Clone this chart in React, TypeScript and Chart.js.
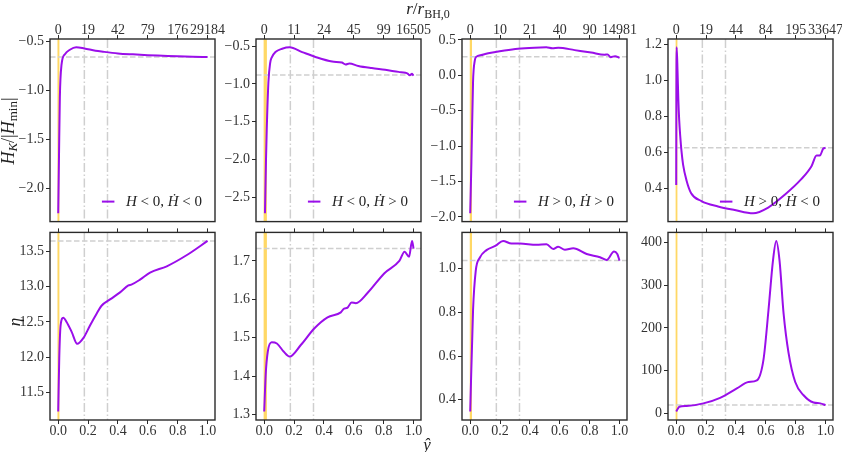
import React, { useEffect, useRef } from 'react'
import { Chart, registerables } from 'chart.js'

Chart.register(...registerables)

// region data
const xTicks = [0, 0.2, 0.4, 0.6, 0.8, 1.0]
const rTickLabels = [
	['0', '19', '42', '79', '176', '29184'],
	['0', '11', '24', '45', '99', '16505'],
	['0', '10', '21', '40', '90', '14981'],
	['0', '19', '44', '84', '195', '33647'],
]
const legendSigns = [
	['<', '<'],
	['<', '>'],
	['>', '>'],
	['>', '<'],
]
const splitLines = [0.175, 0.33]
const bands = [
	[-0.005, 0.008],
	[-0.004, 0.018],
	[-0.003, 0.012],
	[-0.004, 0.008],
]

// H_K / |H_min|, one pair of arrays per column
const hk1X = [0, 0.005, 0.011, 0.022, 0.045, 0.078, 0.12, 0.175, 0.25, 0.3, 0.4, 0.5, 0.6, 0.7, 0.8, 0.9, 1.0]
const hk1Y = [-2.25, -1.7, -1.07, -0.74, -0.63, -0.585, -0.56, -0.572, -0.595, -0.605, -0.622, -0.632, -0.64, -0.646, -0.652, -0.657, -0.66]
const hk2X = [0.005, 0.012, 0.017, 0.028, 0.04, 0.05, 0.075, 0.12, 0.17, 0.254, 0.343, 0.455, 0.52, 0.545, 0.57, 0.63, 0.72, 0.81, 0.9, 0.945, 0.96, 0.975, 0.99, 1.0]
const hk2Y = [-2.71, -2.0, -1.6, -0.98, -0.72, -0.65, -0.578, -0.534, -0.515, -0.578, -0.643, -0.704, -0.717, -0.742, -0.73, -0.761, -0.79, -0.813, -0.84, -0.852, -0.862, -0.885, -0.865, -0.89]
const hk3X = [0, 0.008, 0.019, 0.03, 0.04, 0.075, 0.1, 0.16, 0.23, 0.32, 0.43, 0.51, 0.55, 0.59, 0.7, 0.81, 0.9, 0.92, 0.94, 0.97, 1.0]
const hk3Y = [-1.95, -1.23, -0.09, 0.2, 0.26, 0.285, 0.3, 0.325, 0.35, 0.375, 0.39, 0.395, 0.38, 0.39, 0.355, 0.32, 0.29, 0.295, 0.255, 0.27, 0.245]
const hk4X = [0, 0.001, 0.003, 0.009, 0.014, 0.02, 0.028, 0.035, 0.046, 0.069, 0.1, 0.169, 0.28, 0.392, 0.515, 0.616, 0.727, 0.839, 0.906, 0.94, 0.962, 0.985, 1.0]
const hk4Y = [0.42, 0.9, 1.185, 1.05, 0.9, 0.78, 0.68, 0.61, 0.533, 0.445, 0.374, 0.33, 0.3, 0.28, 0.262, 0.294, 0.365, 0.453, 0.524, 0.583, 0.583, 0.622, 0.626]

// eta
const eta1X = [0, 0.007, 0.016, 0.034, 0.056, 0.09, 0.127, 0.168, 0.213, 0.258, 0.29, 0.347, 0.414, 0.47, 0.49, 0.548, 0.615, 0.727, 0.862, 1.0]
const eta1Y = [11.23, 11.99, 12.45, 12.56, 12.5, 12.36, 12.19, 12.27, 12.45, 12.62, 12.73, 12.82, 12.92, 13.02, 13.03, 13.1, 13.2, 13.29, 13.45, 13.65]
const eta2X = [0, 0.01, 0.024, 0.05, 0.085, 0.13, 0.17, 0.245, 0.335, 0.424, 0.513, 0.535, 0.557, 0.585, 0.614, 0.693, 0.805, 0.905, 0.94, 0.97, 0.99, 1.0]
const eta2Y = [1.308, 1.405, 1.464, 1.488, 1.485, 1.464, 1.451, 1.481, 1.524, 1.553, 1.566, 1.576, 1.578, 1.592, 1.59, 1.617, 1.668, 1.7, 1.724, 1.711, 1.752, 1.732]
const eta3X = [0, 0.019, 0.037, 0.064, 0.109, 0.171, 0.22, 0.276, 0.332, 0.444, 0.511, 0.556, 0.589, 0.634, 0.69, 0.78, 0.869, 0.914, 0.963, 0.985, 1.0]
const eta3Y = [0.346, 0.81, 0.99, 1.05, 1.085, 1.105, 1.127, 1.115, 1.115, 1.109, 1.112, 1.09, 1.1, 1.087, 1.093, 1.067, 1.052, 1.04, 1.079, 1.067, 1.037]
const eta4X = [0, 0.021, 0.07, 0.182, 0.294, 0.406, 0.484, 0.54, 0.585, 0.618, 0.648, 0.67, 0.692, 0.719, 0.752, 0.797, 0.853, 0.92, 0.965, 1.0]
const eta4Y = [4, 15, 17, 23, 36, 58, 73, 77, 127, 242, 358, 404, 358, 234, 142, 73, 42, 25, 23, 19]

const hkX = [hk1X, hk2X, hk3X, hk4X]
const hkY = [hk1Y, hk2Y, hk3Y, hk4Y]
const etaX = [eta1X, eta2X, eta3X, eta4X]
const etaY = [eta1Y, eta2Y, eta3Y, eta4Y]

const hkTicks = [
	[-2.0, -1.5, -1.0, -0.5],
	[-2.5, -2.0, -1.5, -1.0, -0.5],
	[-2.0, -1.5, -1.0, -0.5, 0.0, 0.5],
	[0.4, 0.6, 0.8, 1.0, 1.2],
]
const etaTicks = [
	[11.5, 12.0, 12.5, 13.0, 13.5],
	[1.3, 1.4, 1.5, 1.6, 1.7],
	[0.4, 0.6, 0.8, 1.0],
	[0, 100, 200, 300, 400],
]
const etaDecimals = [1, 1, 1, 0]
const hkRef = [-0.66, -0.88, 0.26, 0.626]
const etaRef = [13.65, 1.732, 1.037, 19]
// endregion

const PURPLE = '#9a0eea'
const GOLD = '#ffd865'
const GREY = '#cfcfcf'
const FRAME = '#2a2a2a'
const FONT = '"Liberation Serif", "DejaVu Serif", serif'

const colLeft = [50, 256, 462, 668]
const panelW = 165
const rowTop = [39, 230]
const rowH = [191, 190]
const yAxisW = 50
const rightPad = 24
const topAxisH = [32, 8]
const bottomAxisH = [2, 28]

Chart.defaults.font.family = FONT
Chart.defaults.font.size = 14
Chart.defaults.color = '#333'

const fmt = (v: number, d: number) => v.toFixed(d).replace('-', '\u2212')

const decorPlugin = {
	id: 'panelDecor',
	beforeDatasetsDraw(chart: any, _args: any, opts: any) {
		const { ctx, chartArea: a, scales } = chart
		const xs = scales.x
		const ys = scales.y
		ctx.save()
		ctx.beginPath()
		ctx.rect(a.left, a.top, a.right - a.left, a.bottom - a.top)
		ctx.clip()
		// gold band
		const b0 = xs.getPixelForValue(opts.band[0])
		const b1 = xs.getPixelForValue(opts.band[1])
		ctx.fillStyle = GOLD
		ctx.fillRect(b0, a.top, b1 - b0, a.bottom - a.top)
		// dash-dot verticals
		ctx.strokeStyle = GREY
		ctx.lineWidth = 1.5
		ctx.setLineDash([9, 2.5, 1.5, 2.5])
		opts.vlines.forEach((v: number) => {
			const px = xs.getPixelForValue(v)
			ctx.beginPath()
			ctx.moveTo(px, a.top)
			ctx.lineTo(px, a.bottom)
			ctx.stroke()
		})
		// dashed horizontal
		ctx.setLineDash([5.5, 2.5])
		const py = ys.getPixelForValue(opts.hline)
		ctx.beginPath()
		ctx.moveTo(a.left, py)
		ctx.lineTo(a.right, py)
		ctx.stroke()
		ctx.restore()
	},
	afterDraw(chart: any, _args: any, opts: any) {
		const { ctx, chartArea: a } = chart
		ctx.save()
		ctx.strokeStyle = FRAME
		ctx.lineWidth = 1.4
		ctx.strokeRect(a.left, a.top, a.right - a.left, a.bottom - a.top)
		if (opts.signs) {
			const runs = [
				{ t: 'H', it: true },
				{ t: ` ${opts.signs[0]} 0, `, it: false },
				{ t: '\u1E22', it: true },
				{ t: ` ${opts.signs[1]} 0`, it: false },
			]
			const font = (it: boolean) => `${it ? 'italic ' : ''}15px ${FONT}`
			let w = 0
			runs.forEach((r) => {
				ctx.font = font(r.it)
				w += ctx.measureText(r.t).width
			})
			let x = a.right - 13 - w
			const y = a.bottom - 20
			ctx.strokeStyle = PURPLE
			ctx.lineWidth = 2
			ctx.beginPath()
			ctx.moveTo(x - 24, y)
			ctx.lineTo(x - 11.5, y)
			ctx.stroke()
			ctx.fillStyle = '#222'
			ctx.textBaseline = 'middle'
			ctx.textAlign = 'left'
			runs.forEach((r) => {
				ctx.font = font(r.it)
				ctx.fillText(r.t, x, y)
				x += ctx.measureText(r.t).width
			})
		}
		ctx.restore()
	},
}

interface PanelProps {
	row: number
	col: number
	xs: number[]
	ys: number[]
	yTicks: number[]
	decimals: number
	hline: number
}

function Panel(props: PanelProps) {
	const refCanvas = useRef<HTMLCanvasElement>(null)
	const { row, col } = props
	const width = yAxisW + panelW + rightPad
	const height = topAxisH[row] + rowH[row] + bottomAxisH[row]

	useEffect(() => {
		let chart: Chart | undefined
		const context = refCanvas.current?.getContext('2d')
		if (context) {
			const lo = Math.min(...props.ys)
			const hi = Math.max(...props.ys)
			const pad = 0.05 * (hi - lo)
			const setX = (s: any) => {
				s.ticks = xTicks.map((v) => ({ value: v }))
			}
			chart = new Chart(context, {
				type: 'line',
				data: {
					datasets: [
						{
							data: props.xs.map((v, i) => ({ x: v, y: props.ys[i] })),
							borderColor: PURPLE,
							borderWidth: 2,
							pointRadius: 0,
							cubicInterpolationMode: 'monotone',
							fill: false,
						},
					],
				},
				options: {
					animation: false,
					responsive: false,
					maintainAspectRatio: false,
					events: [],
					layout: { padding: { left: 0, right: rightPad, top: 0, bottom: 0 }, autoPadding: false },
					plugins: {
						legend: { display: false },
						tooltip: { enabled: false },
						panelDecor: {
							band: bands[col],
							vlines: splitLines,
							hline: props.hline,
							signs: row === 0 ? legendSigns[col] : null,
						},
					} as any,
					scales: {
						x: {
							type: 'linear',
							position: 'bottom',
							min: -0.055,
							max: 1.05,
							afterBuildTicks: setX,
							ticks: {
								display: row === 1,
								padding: -1,
								autoSkip: false,
								maxRotation: 0,
								callback: (v: any) => Number(v).toFixed(1),
							},
							grid: { display: row === 1, drawOnChartArea: false, tickLength: 4, color: FRAME },
							border: { display: false },
							afterFit: (s: any) => {
								s.height = bottomAxisH[row]
							},
						},
						x2: {
							type: 'linear',
							position: 'top',
							min: -0.055,
							max: 1.05,
							afterBuildTicks: setX,
							ticks: {
								display: row === 0,
								padding: -4,
								autoSkip: false,
								maxRotation: 0,
								callback: (_v: any, i: number) => rTickLabels[col][i] ?? '',
							},
							grid: { drawOnChartArea: false, tickLength: 4, color: FRAME },
							border: { display: false },
							afterFit: (s: any) => {
								s.height = topAxisH[row]
							},
						},
						y: {
							type: 'linear',
							min: lo - pad,
							max: hi + pad,
							afterBuildTicks: (s: any) => {
								s.ticks = props.yTicks.map((v) => ({ value: v }))
							},
							ticks: {
								padding: 2,
								autoSkip: false,
								callback: (v: any) => fmt(Number(v), props.decimals),
							},
							grid: { drawOnChartArea: false, tickLength: 4, color: FRAME },
							border: { display: false },
							afterFit: (s: any) => {
								s.width = yAxisW
							},
						},
					},
				} as any,
				plugins: [decorPlugin],
			})
		}
		return () => chart?.destroy()
	}, [])

	return (
		<canvas
			ref={refCanvas}
			width={width}
			height={height}
			style={{
				position: 'absolute',
				left: colLeft[col] - yAxisW,
				top: rowTop[row] - topAxisH[row],
				width,
				height,
			}}
		/>
	)
}

const labelStyle: React.CSSProperties = {
	position: 'absolute',
	transform: 'translate(-50%, -50%)',
	fontFamily: FONT,
	fontSize: 17,
	color: '#222',
	whiteSpace: 'nowrap',
	lineHeight: 1,
}
const subStyle: React.CSSProperties = { fontSize: 12, verticalAlign: '-0.3em' }

export default function App() {
	return (
		<div style={{ position: 'absolute', left: 0, top: 0, width: 842, height: 452, background: '#fff' }}>
			{[0, 1, 2, 3].map((c) => (
				<Panel key={`hk${c}`} row={0} col={c} xs={hkX[c]} ys={hkY[c]} yTicks={hkTicks[c]} decimals={1} hline={hkRef[c]} />
			))}
			{[0, 1, 2, 3].map((c) => (
				<Panel
					key={`eta${c}`}
					row={1}
					col={c}
					xs={etaX[c]}
					ys={etaY[c]}
					yTicks={etaTicks[c]}
					decimals={etaDecimals[c]}
					hline={etaRef[c]}
				/>
			))}
			<div style={{ ...labelStyle, left: 428, top: 10 }}>
				<i>r</i>/<i>r</i>
				<span style={subStyle}>BH,0</span>
			</div>
			<div style={{ ...labelStyle, left: 427, top: 444 }}>
				<i>{'\u0177'}</i>
			</div>
			<div style={{ ...labelStyle, fontSize: 18, left: 9, top: 131, transform: 'translate(-50%, -50%) rotate(-90deg)' }}>
				<i>H</i>
				<i style={{ ...subStyle, fontSize: 13 }}>K</i>/|<i>H</i>
				<span style={{ ...subStyle, fontSize: 13 }}>min</span>|
			</div>
			<div style={{ ...labelStyle, left: 14, top: 322, transform: 'translate(-50%, -50%) rotate(-90deg)' }}>
				<i>{'\u03B7'}</i>
			</div>
		</div>
	)
}
